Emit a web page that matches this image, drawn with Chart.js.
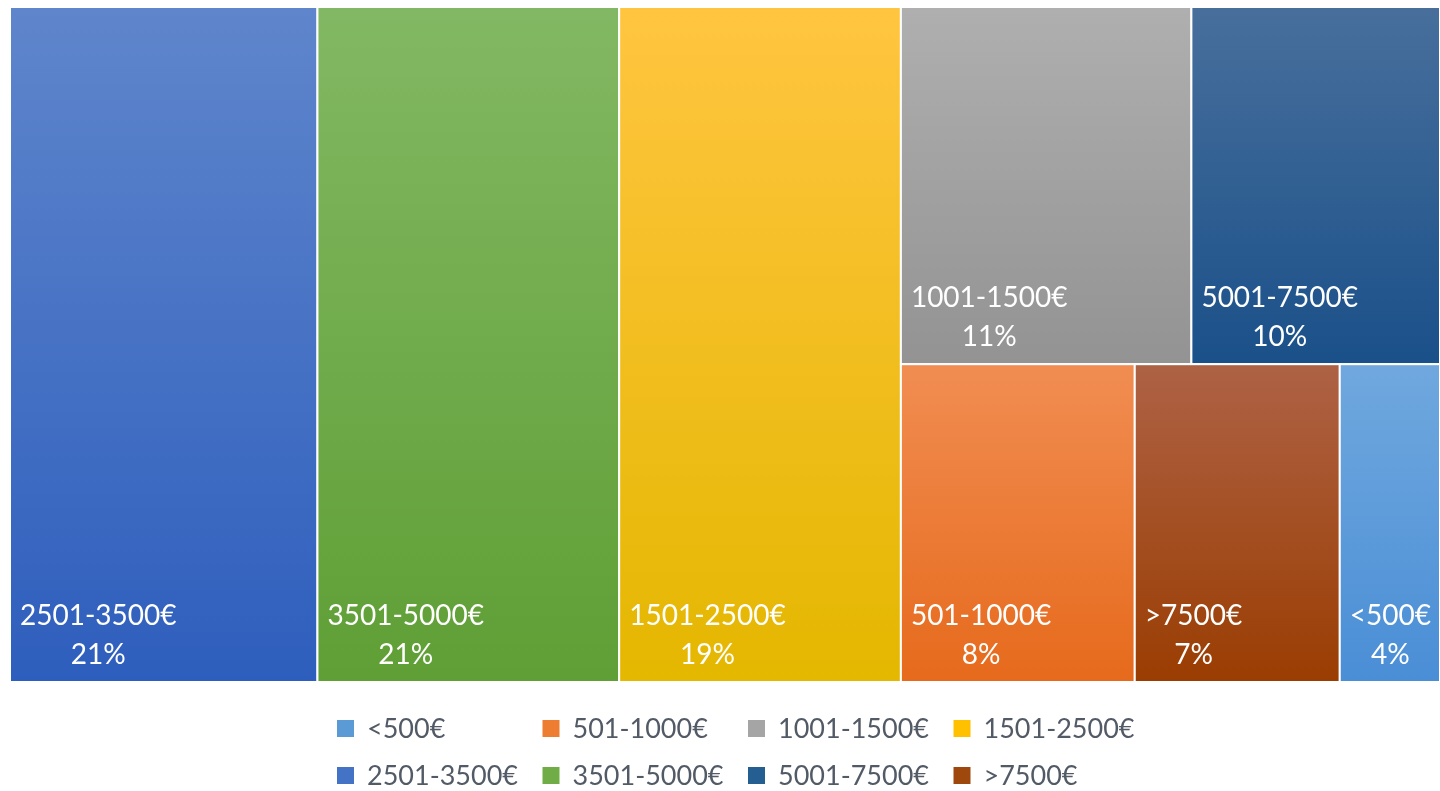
<!DOCTYPE html>
<html>
<head>
<meta charset="utf-8">
<title>Treemap</title>
<script src="https://cdn.jsdelivr.net/npm/chart.js@4.4.1/dist/chart.umd.min.js"></script>
<style>
  html, body { margin: 0; padding: 0; background: #fff; }
  #wrap { width: 1440px; height: 791px; position: relative; }
</style>
</head>
<body>
<div id="wrap"><canvas id="chartTreemap"></canvas></div>
<script>
let categories = ['<500€', '501-1000€', '1001-1500€', '1501-2500€', '2501-3500€', '3501-5000€', '5001-7500€', '>7500€'];
// tile sizes (read from the areas) and the percentages printed on the tiles
let shares = [3.3, 7.7, 10.75, 19.7, 21.5, 21.1, 9.2, 6.75];
let percentLabels = [4, 8, 11, 19, 21, 21, 10, 7];
let colorHex = ['#5b9bd5', '#ed7d31', '#a5a5a5', '#ffc000', '#4472c4', '#70ad47', '#255e91', '#9e480e'];
let colorTop = ['#70a8de', '#f18d52', '#afafaf', '#ffc540', '#5f86cc', '#82b863', '#486f9c', '#ae6245'];
let colorBottom = ['#4a8ed6', '#e66a1c', '#939393', '#e4b700', '#2e5ebd', '#5f9f35', '#1a5089', '#9a3d02'];

// columns first, the last column split into two rows (same tiling as Excel)
let tiling = [4, 5, 3, [[2, 6], [1, 7, 0]]];

function weight(node) {
  return Array.isArray(node) ? node.reduce((s, n) => s + weight(n), 0) : shares[node];
}

function slice(node, x0, x1, y0, y1, alongX, out) {
  if (!Array.isArray(node)) {
    out.push({i: node, x0: x0, x1: x1, y0: y0, y1: y1});
    return;
  }
  let total = weight(node);
  let pos = alongX ? x0 : y0;
  node.forEach(child => {
    let size = weight(child) / total * (alongX ? x1 - x0 : y1 - y0);
    if (alongX) slice(child, pos, pos + size, y0, y1, false, out);
    else slice(child, x0, x1, pos, pos + size, true, out);
    pos += size;
  });
}

let treemapPlugin = {
  id: 'treemap',
  beforeDatasetsDraw(chart) {
    let ctx = chart.ctx;
    let x = chart.scales.x, y = chart.scales.y;
    let tiles = [];
    slice(tiling, 0, 100, 0, 100, true, tiles);
    tiles.forEach(t => {
      let left = x.getPixelForValue(t.x0), right = x.getPixelForValue(t.x1);
      let top = y.getPixelForValue(t.y0), bottom = y.getPixelForValue(t.y1);
      let grad = ctx.createLinearGradient(0, top, 0, bottom);
      grad.addColorStop(0, colorTop[t.i]);
      grad.addColorStop(1, colorBottom[t.i]);
      ctx.save();
      ctx.fillStyle = grad;
      ctx.fillRect(left, top, right - left, bottom - top);
      ctx.strokeStyle = '#ffffff';
      ctx.lineWidth = 2;
      ctx.strokeRect(left, top, right - left, bottom - top);

      ctx.fillStyle = '#ffffff';
      ctx.font = '28px Lato';
      ctx.textBaseline = 'alphabetic';
      let name = categories[t.i];
      let w = ctx.measureText(name).width;
      let tx = left + 10;
      ctx.textAlign = 'left';
      ctx.fillText(name, tx, bottom - 57);
      ctx.textAlign = 'center';
      ctx.fillText(percentLabels[t.i] + '%', tx + w / 2, bottom - 18);
      ctx.restore();
    });
  }
};

// legend in a fixed 4-column grid
let legendPlugin = {
  id: 'gridLegend',
  afterDraw(chart) {
    let ctx = chart.ctx;
    ctx.save();
    ctx.font = '27px Lato';
    ctx.textBaseline = 'alphabetic';
    ctx.textAlign = 'left';
    categories.forEach((c, i) => {
      let col = i % 4, row = Math.floor(i / 4);
      let bx = 337 + col * 205.5, by = 720 + row * 47;
      ctx.fillStyle = colorHex[i];
      ctx.fillRect(bx, by, 17, 17);
      ctx.fillStyle = '#525a66';
      ctx.fillText(c, bx + 30, by + 18);
    });
    ctx.restore();
  }
};

let chartTreemap = new Chart(document.getElementById('chartTreemap').getContext('2d'), {
  type: 'scatter',
  data: {
    datasets: categories.map((c, i) => ({
      label: c,
      data: [],
      backgroundColor: colorHex[i]
    }))
  },
  options: {
    responsive: true,
    maintainAspectRatio: false,
    animation: false,
    events: [],
    layout: { padding: { left: 10, top: 7, right: 0, bottom: 109 } },
    scales: {
      x: { type: 'linear', min: 0, max: 100, display: false },
      y: { type: 'linear', min: 0, max: 100, reverse: true, display: false }
    },
    plugins: {
      legend: { display: false },
      tooltip: { enabled: false }
    }
  },
  plugins: [treemapPlugin, legendPlugin]
});
</script>
</body>
</html>
